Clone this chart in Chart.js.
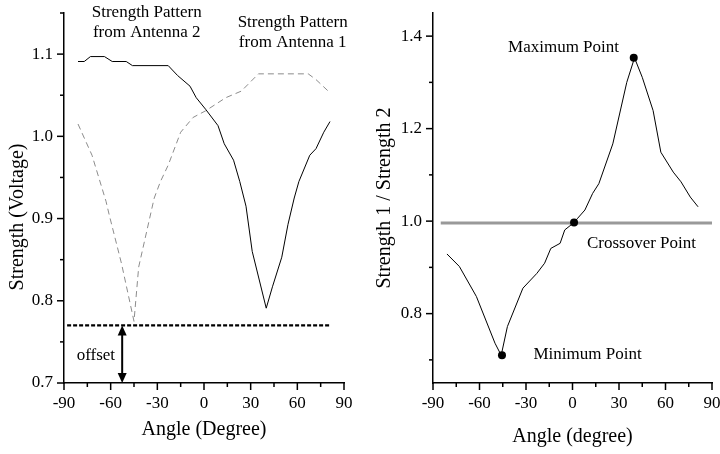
<!DOCTYPE html>
<html><head><meta charset="utf-8">
<script src="https://cdn.jsdelivr.net/npm/chart.js@4/dist/chart.umd.min.js"></script>
<style>
html,body{margin:0;padding:0;background:#fff;width:720px;height:454px;overflow:hidden}
canvas{position:absolute;top:0}
#c1{left:0}
#c2{left:360px}
</style></head><body>
<canvas id="c1" width="360" height="454"></canvas>
<canvas id="c2" width="360" height="454"></canvas>
<script>
// ---- data ----
const ant2Angles = [-81,-77,-73,-64,-59,-50,-46,-23,-17,-9,-5,1,9,13,19,23,27,31,40,44,50,54,58,61,68,72,77,81];
const ant2Values = [1.091,1.091,1.097,1.097,1.091,1.091,1.086,1.086,1.074,1.061,1.047,1.033,1.013,0.991,0.971,0.945,0.915,0.86,0.791,0.817,0.853,0.893,0.925,0.945,0.977,0.985,1.005,1.018];
const ant1Angles = [-81,-72,-63,-61,-53,-45,-42,-32,-28,-23,-15,-7,1,14,24,35,67,72,81];
const ant1Values = [1.015,0.977,0.921,0.905,0.845,0.775,0.841,0.925,0.945,0.965,1.005,1.023,1.031,1.047,1.055,1.076,1.076,1.069,1.053];
const offsetLevel = 0.77;
const offsetSpan = [-88, 81];
const offsetArrowAngle = -52.6;

const ratioAngles = [-81,-73,-62,-50,-46,-42,-32,-23,-18,-14,-8,-5,1,3,8,13,17,26,35,40,45,52,57,65,70,76,81];
const ratioValues = [0.929,0.902,0.837,0.736,0.71,0.772,0.855,0.887,0.909,0.941,0.952,0.981,0.997,1.005,1.024,1.06,1.081,1.167,1.30,1.353,1.311,1.239,1.149,1.106,1.085,1.052,1.031];
const keyAngles = [-45.5, 1, 39.5];
const keyValues = [0.71, 0.997, 1.353];
const crossoverLevel = 0.996;
const crossoverSpan = [-85, 90];

const angleTicks = [-90,-75,-60,-45,-30,-15,0,15,30,45,60,75,90];
const angleLabelStep = 30;
const leftYMin = 0.7, leftYMax = 1.15;
const leftYTicks = [0.7,0.75,0.8,0.85,0.9,0.95,1.0,1.05,1.1,1.15];
const rightYMin = 0.65, rightYMax = 1.45;
const rightYTicks = [0.7,0.8,0.9,1.0,1.1,1.2,1.3,1.4];

const leftNotes = [
  {text:'Strength Pattern', x:-36.8, y:1.150},
  {text:'from Antenna 2', x:-36.8, y:1.126},
  {text:'Strength Pattern', x:57, y:1.138},
  {text:'from Antenna 1', x:57, y:1.114},
  {text:'offset', x:-69.5, y:0.733}
];
const rightNotes = [
  {text:'Maximum Point', x:-5.8, y:1.376},
  {text:'Crossover Point', x:44.5, y:0.952},
  {text:'Minimum Point', x:9.7, y:0.711}
];

// ---- helpers ----
const FONT = "'Liberation Serif','Times New Roman',serif";
const pts = (xs, ys) => xs.map((x,i)=>({x, y:ys[i]}));

const tickMarks = {
  id:'tickMarks',
  afterDraw(chart){
    const ctx = chart.ctx, ca = chart.chartArea, xs = chart.scales.x, ys = chart.scales.y;
    ctx.save(); ctx.strokeStyle = '#000'; ctx.lineWidth = 1.5;
    xs.ticks.forEach(t=>{
      const p = xs.getPixelForValue(t.value), len = t.label ? 7 : 4;
      ctx.beginPath(); ctx.moveTo(p, ca.bottom); ctx.lineTo(p, ca.bottom+len); ctx.stroke();
    });
    ys.ticks.forEach(t=>{
      const p = ys.getPixelForValue(t.value), len = t.label ? 7 : 4;
      ctx.beginPath(); ctx.moveTo(ca.left, p); ctx.lineTo(ca.left-len, p); ctx.stroke();
    });
    ctx.restore();
  }
};

function notesPlugin(notes, extra){
  return {
    id:'notes',
    afterDraw(chart){
      const ctx = chart.ctx, xs = chart.scales.x, ys = chart.scales.y;
      ctx.save();
      ctx.fillStyle = '#000'; ctx.font = '17px ' + FONT;
      ctx.textAlign = 'center'; ctx.textBaseline = 'middle';
      notes.forEach(n=>ctx.fillText(n.text, xs.getPixelForValue(n.x), ys.getPixelForValue(n.y)));
      ctx.restore();
      if (extra) extra(chart);
    }
  };
}

function drawOffsetArrow(chart){
  const ctx = chart.ctx, xs = chart.scales.x, ys = chart.scales.y;
  const x = xs.getPixelForValue(offsetArrowAngle);
  const yTop = ys.getPixelForValue(offsetLevel), yBot = ys.getPixelForValue(leftYMin);
  ctx.save();
  ctx.strokeStyle = '#000'; ctx.fillStyle = '#000'; ctx.lineWidth = 2;
  ctx.beginPath(); ctx.moveTo(x, yTop+8); ctx.lineTo(x, yBot-8); ctx.stroke();
  ctx.beginPath(); ctx.moveTo(x, yTop); ctx.lineTo(x-4.5, yTop+10); ctx.lineTo(x+4.5, yTop+10); ctx.closePath(); ctx.fill();
  ctx.beginPath(); ctx.moveTo(x, yBot); ctx.lineTo(x-4.5, yBot-10); ctx.lineTo(x+4.5, yBot-10); ctx.closePath(); ctx.fill();
  // rotated y-axis title
  ctx.font = '20px ' + FONT; ctx.textAlign = 'center'; ctx.textBaseline = 'middle';
  ctx.translate(18, 217); ctx.rotate(-Math.PI/2);
  ctx.fillText('Strength (Voltage)', 0, 0);
  ctx.restore();
}

function labelEvery(step, dec){
  return v => (Math.abs(v/step - Math.round(v/step)) < 1e-6) ? (dec ? Number(v).toFixed(dec) : String(Math.round(v))) : '';
}

function xScale(titlePadBottom, height){
  return {
    type:'linear', min:angleTicks[0], max:angleTicks[angleTicks.length-1],
    afterBuildTicks(s){ s.ticks = angleTicks.map(v=>({value:v})); },
    ticks:{color:'#000', font:{family:FONT, size:17}, padding:3, maxRotation:0, autoSkip:false,
      callback: labelEvery(angleLabelStep, 0)},
    grid:{display:true, drawOnChartArea:false, drawTicks:true, tickLength:7, tickColor:'rgba(0,0,0,0)'},
    border:{display:true, color:'#000', width:1.5},
    title:{display:true, text:'Angle (Degree)', color:'#000', font:{family:FONT, size:20}, padding:{top:0, bottom:titlePadBottom}},
    afterFit(s){ s.height = height; s.paddingLeft = 0; s.paddingRight = 0; }
  };
}
function yScale(min, max, tickVals, labelStep, width){
  return {
    type:'linear', min, max,
    afterBuildTicks(s){ s.ticks = tickVals.map(v=>({value:v})); },
    ticks:{color:'#000', font:{family:FONT, size:17}, padding:4, autoSkip:false,
      callback: labelEvery(labelStep, 1)},
    grid:{display:true, drawOnChartArea:false, drawTicks:true, tickLength:7, tickColor:'rgba(0,0,0,0)'},
    border:{display:true, color:'#000', width:1.5},
    afterFit(s){ s.width = width; s.paddingTop = 0; s.paddingBottom = 0; }
  };
}

Chart.defaults.font.family = FONT;
const common = {
  responsive:false, animation:false, devicePixelRatio:1,
  plugins:{legend:{display:false}, tooltip:{enabled:false}},
  elements:{line:{tension:0}, point:{radius:0}}
};

// ---- left chart ----
const lx = xScale(12, 71);
const ly = yScale(leftYMin, leftYMax, leftYTicks, 0.1, 64);
new Chart(document.getElementById('c1'), {
  type:'line',
  data:{datasets:[
    {data:pts(ant2Angles, ant2Values), borderColor:'#000', borderWidth:1, pointRadius:0},
    {data:pts(ant1Angles, ant1Values), borderColor:'#8c8c8c', borderWidth:1, borderDash:[6,4], pointRadius:0},
    {data:pts(offsetSpan, [offsetLevel, offsetLevel]), borderColor:'#000', borderWidth:2.2, borderDash:[4,2], pointRadius:0}
  ]},
  options:Object.assign({}, common, {
    layout:{padding:{top:13, right:16, left:0, bottom:0}},
    scales:{x:lx, y:ly}
  }),
  plugins:[tickMarks, notesPlugin(leftNotes, drawOffsetArrow)]
});

// ---- right chart ----
const rx = xScale(5, 71);
rx.title.text = 'Angle (degree)';
const ry = yScale(rightYMin, rightYMax, rightYTicks, 0.2, 73);
ry.title = {display:true, text:'Strength 1 / Strength 2', color:'#000', font:{family:FONT, size:20}, padding:{top:13, bottom:0}};
new Chart(document.getElementById('c2'), {
  type:'line',
  data:{datasets:[
    {data:pts(keyAngles, keyValues), showLine:false, pointRadius:4, pointBackgroundColor:'#000', pointBorderColor:'#000', borderWidth:0},
    {data:pts(ratioAngles, ratioValues), borderColor:'#000', borderWidth:1, pointRadius:0},
    {data:pts(crossoverSpan, [crossoverLevel, crossoverLevel]), borderColor:'#999', borderWidth:3, pointRadius:0}
  ]},
  options:Object.assign({}, common, {
    layout:{padding:{top:13, right:8, left:0, bottom:0}},
    scales:{x:rx, y:ry}
  }),
  plugins:[tickMarks, notesPlugin(rightNotes)]
});
</script>
</body></html>
